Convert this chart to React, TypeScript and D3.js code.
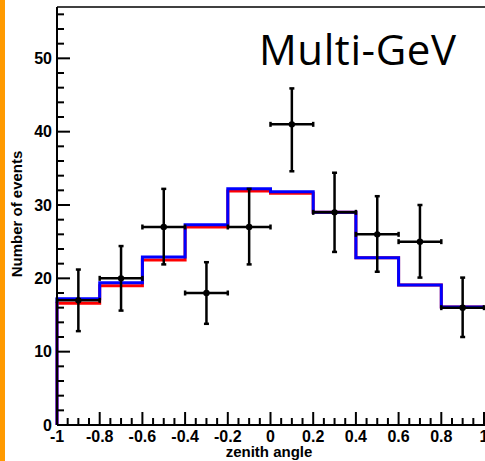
import React, { useEffect, useRef } from "react";
import * as d3 from "d3";

// Zenith-angle bins (lower edges) and bin width
const binEdges = [-1, -0.8, -0.6, -0.4, -0.2, 0, 0.2, 0.4, 0.6, 0.8];
const binWidth = 0.2;

// Observed data points: bin centres, counts and asymmetric errors
const dataX = [-0.9, -0.7, -0.5, -0.3, -0.1, 0.1, 0.3, 0.5, 0.7, 0.9];
const dataY = [17, 20, 27, 18, 27, 41, 29, 26, 25, 16];
const errUp = [4.2, 4.4, 5.2, 4.2, 5.2, 4.9, 5.4, 5.2, 5.0, 4.1];
const errDown = [4.2, 4.4, 5.1, 4.2, 5.1, 6.4, 5.4, 5.1, 4.9, 4.0];

// Expectation histograms
const redHist = [16.6, 19.0, 22.5, 27.0, 31.9, 31.6, 29.0, 22.8, 19.1, 16.1];
const blueHist = [17.2, 19.4, 22.9, 27.3, 32.2, 31.8, 29.0, 22.8, 19.1, 16.1];

// Axis ticks
const xMajor = [-1, -0.8, -0.6, -0.4, -0.2, 0, 0.2, 0.4, 0.6, 0.8, 1];
const xTickLabels = ["-1", "-0.8", "-0.6", "-0.4", "-0.2", "0", "0.2", "0.4", "0.6", "0.8", "1"];
const yMajor = [0, 10, 20, 30, 40, 50];

const W = 485;
const H = 461;
const left = 57;
const right = 484;
const top = 7;
const bottom = 425;
const axisFont = "'Liberation Sans', Arial, Helvetica, sans-serif";

export default function App() {
  const ref = useRef<SVGSVGElement>(null);

  useEffect(() => {
    const svg = d3.select(ref.current);
    svg.selectAll("*").remove();

    const x = d3.scaleLinear().domain([-1, 1]).range([left, right]);
    const y = d3.scaleLinear().domain([0, 57]).range([bottom, top]);

    // orange side strip
    svg.append("rect").attr("x", 0).attr("y", 0).attr("width", 5).attr("height", H).attr("fill", "#ff9a00");

    // frame top line
    svg.append("line").attr("x1", left).attr("x2", W).attr("y1", top).attr("y2", top)
      .attr("stroke", "#000").attr("stroke-width", 1.5);

    // histogram path builder
    const histPath = (vals: number[]) => {
      const p = d3.path();
      p.moveTo(x(binEdges[0]), y(0));
      vals.forEach((v, i) => {
        p.lineTo(x(binEdges[i]), y(v));
        p.lineTo(x(binEdges[i] + binWidth), y(v));
      });
      return p.toString();
    };

    svg.append("path").attr("d", histPath(redHist)).attr("fill", "none")
      .attr("stroke", "#ff0000").attr("stroke-width", 3);
    svg.append("path").attr("d", histPath(blueHist)).attr("fill", "none")
      .attr("stroke", "#0000ff").attr("stroke-width", 3);

    // data points with error bars
    const g = svg.append("g").attr("stroke", "#000").attr("stroke-width", 2.5);
    dataX.forEach((cx, i) => {
      const px = x(cx);
      const py = y(dataY[i]);
      const x0 = x(cx - binWidth / 2);
      const x1 = x(cx + binWidth / 2);
      const yt = y(dataY[i] + errUp[i]);
      const yb = y(dataY[i] - errDown[i]);
      g.append("line").attr("x1", x0).attr("x2", x1).attr("y1", py).attr("y2", py);
      g.append("line").attr("x1", px).attr("x2", px).attr("y1", yt).attr("y2", yb);
      // caps
      g.append("line").attr("x1", x0).attr("x2", x0).attr("y1", py - 2.5).attr("y2", py + 2.5);
      g.append("line").attr("x1", x1).attr("x2", x1).attr("y1", py - 2.5).attr("y2", py + 2.5);
      g.append("line").attr("x1", px - 2.5).attr("x2", px + 2.5).attr("y1", yt).attr("y2", yt);
      g.append("line").attr("x1", px - 2.5).attr("x2", px + 2.5).attr("y1", yb).attr("y2", yb);
      svg.append("circle").attr("cx", px).attr("cy", py).attr("r", 3.2).attr("fill", "#000");
    });

    // axes lines
    svg.append("line").attr("x1", left).attr("x2", W).attr("y1", bottom).attr("y2", bottom)
      .attr("stroke", "#000").attr("stroke-width", 2);
    svg.append("line").attr("x1", left).attr("x2", left).attr("y1", top).attr("y2", bottom)
      .attr("stroke", "#000").attr("stroke-width", 2);

    // y ticks (inward)
    const yMinor = d3.range(0, 57, 2);
    yMinor.forEach((v) => {
      const major = v % 10 === 0;
      svg.append("line").attr("x1", left).attr("x2", left + (major ? 13 : 7))
        .attr("y1", y(v)).attr("y2", y(v)).attr("stroke", "#000").attr("stroke-width", 2);
    });
    yMajor.forEach((v) => {
      svg.append("text").attr("x", 52).attr("y", y(v)).attr("dy", "0.36em")
        .attr("text-anchor", "end").attr("font-family", axisFont).attr("font-weight", "bold")
        .attr("font-size", 16).attr("fill", "#000").text(String(v));
    });

    // x ticks (inward)
    const xMinor = d3.range(0, 41).map((k) => -1 + k * 0.05);
    xMinor.forEach((v, k) => {
      const major = k % 4 === 0;
      svg.append("line").attr("x1", x(v)).attr("x2", x(v))
        .attr("y1", bottom).attr("y2", bottom - (major ? 13 : 7))
        .attr("stroke", "#000").attr("stroke-width", 2);
    });
    xMajor.forEach((v, i) => {
      svg.append("text").attr("x", x(v)).attr("y", 442)
        .attr("text-anchor", "middle").attr("font-family", axisFont).attr("font-weight", "bold")
        .attr("font-size", 16).attr("fill", "#000").text(xTickLabels[i]);
    });

    // axis titles
    svg.append("text").attr("x", 269).attr("y", 456.5)
      .attr("text-anchor", "middle").attr("font-family", axisFont).attr("font-weight", "bold")
      .attr("font-size", 15).attr("fill", "#000").text("zenith angle");
    svg.append("text").attr("transform", `translate(22,214) rotate(-90)`)
      .attr("text-anchor", "middle").attr("font-family", axisFont).attr("font-weight", "bold")
      .attr("font-size", 15).attr("fill", "#000").text("Number of events");

    // panel title
    svg.append("text").attr("x", 259).attr("y", 64.5)
      .attr("font-family", "'Open Sans', 'Noto Sans', sans-serif")
      .attr("font-size", 42).attr("textLength", 197).attr("lengthAdjust", "spacing")
      .attr("fill", "#000").text("Multi-GeV");
  }, []);

  return (
    <svg
      ref={ref}
      width={W}
      height={H}
      style={{ position: "absolute", left: 0, top: 0, background: "#fff" }}
    />
  );
}
